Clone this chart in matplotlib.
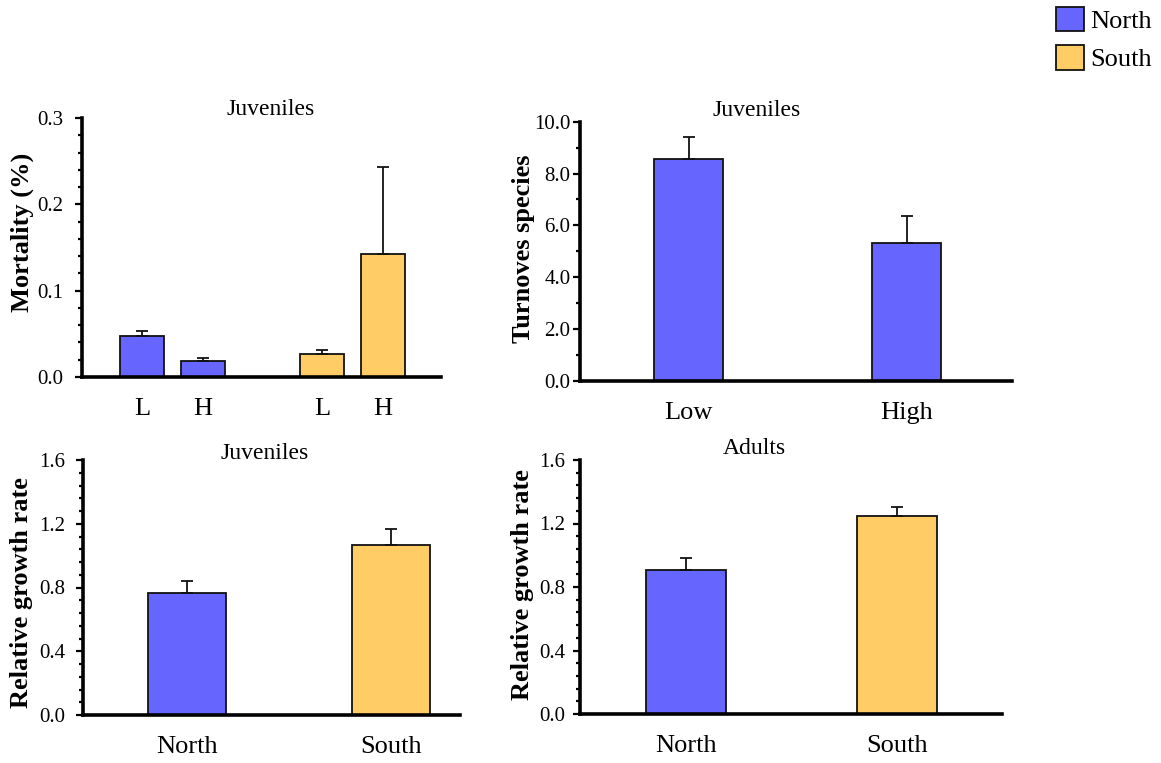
import matplotlib
matplotlib.use("Agg")
import matplotlib.pyplot as plt
from matplotlib.patches import Patch
from matplotlib.ticker import MultipleLocator, FormatStrFormatter

plt.rcParams['font.family'] = ['Liberation Serif', 'DejaVu Serif']

NORTH = '#6666FF'
SOUTH = '#FFCC66'

# mortality, juveniles (N-L, N-H, S-L, S-H)
mort_labels = ['L', 'H', 'L', 'H']
mort_vals = [0.048, 0.019, 0.027, 0.143]
mort_err = [0.005, 0.003, 0.004, 0.100]
mort_colors = [NORTH, NORTH, SOUTH, SOUTH]

# turnover species, juveniles
turn_labels = ['Low', 'High']
turn_vals = [8.56, 5.33]
turn_err = [0.86, 1.02]

# relative growth rate
rgr_labels = ['North', 'South']
rgr_juv = [0.765, 1.065]
rgr_juv_err = [0.075, 0.105]
rgr_adu = [0.905, 1.25]
rgr_adu_err = [0.08, 0.055]

W, H = 1161, 763
fig = plt.figure(figsize=(W / 100, H / 100), dpi=100)


def make_ax(l, r, b, t):
    # pixel box -> figure fraction
    return fig.add_axes([l / W, 1 - b / H, (r - l) / W, (b - t) / H])


def style(ax, ymax, major, minor, fmt, pad):
    for s in ['top', 'right']:
        ax.spines[s].set_visible(False)
    ax.spines['left'].set_linewidth(2.6)
    ax.spines['bottom'].set_linewidth(2.6)
    ax.set_ylim(0, ymax)
    ax.yaxis.set_major_locator(MultipleLocator(major))
    ax.yaxis.set_minor_locator(MultipleLocator(minor))
    ax.yaxis.set_major_formatter(FormatStrFormatter(fmt))
    ax.tick_params(axis='y', which='major', direction='out', length=5, width=1.6,
                   labelsize=15, pad=pad)
    ax.tick_params(axis='y', which='minor', direction='out', length=3, width=1.6)
    ax.tick_params(axis='x', length=0, labelsize=19, pad=15)


def bars(ax, pos, vals, err, colors, width):
    ax.bar(pos, vals, width=width, color=colors, edgecolor='#111111', linewidth=1.3, zorder=2)
    ax.errorbar(pos, vals, yerr=[[0] * len(err), err], fmt='none', ecolor='#111111',
                elinewidth=1.3, capsize=4, capthick=1.3, zorder=3)


# top left: mortality
ax1 = make_ax(82, 441, 377, 118)
p1 = [0, 1, 2.95, 3.95]
bars(ax1, p1, mort_vals, mort_err, mort_colors, 0.72)
ax1.set_xlim(-0.984, 4.90)
style(ax1, 0.3, 0.1, 0.02, '%.1f', 8.5)
ax1.set_xticks(p1, mort_labels)
ax1.text(0.526, 1.031, 'Juveniles', transform=ax1.transAxes, ha='center', va='center', fontsize=17)
ax1.text(-0.167, 0.56, 'Mortality (%)', transform=ax1.transAxes, rotation=90,
         ha='center', va='center', fontsize=19, fontweight='bold')

# top right: turnover
ax2 = make_ax(580, 1012, 381, 121.7)
p2 = [0, 1]
bars(ax2, p2, turn_vals, turn_err, [NORTH, NORTH], 0.317)
ax2.set_xlim(-0.498, 1.484)
style(ax2, 10, 2, 1, '%.1f', 2)
ax2.set_xticks(p2, turn_labels)
ax2.text(0.41, 1.045, 'Juveniles', transform=ax2.transAxes, ha='center', va='center', fontsize=17)
ax2.text(-0.13, 0.51, 'Turnoves species', transform=ax2.transAxes, rotation=90,
         ha='center', va='center', fontsize=19, fontweight='bold')

# bottom left: growth juveniles
ax3 = make_ax(83, 460, 715, 460)
p3 = [0, 1]
bars(ax3, p3, rgr_juv, rgr_juv_err, [NORTH, SOUTH], 0.382)
ax3.set_xlim(-0.51, 1.338)
style(ax3, 1.6, 0.4, 0.08, '%.1f', 8)
ax3.set_xticks(p3, rgr_labels)
ax3.text(0.483, 1.027, 'Juveniles', transform=ax3.transAxes, ha='center', va='center', fontsize=17)
ax3.text(-0.164, 0.48, 'Relative growth rate', transform=ax3.transAxes, rotation=90,
         ha='center', va='center', fontsize=19, fontweight='bold')

# bottom right: growth adults
ax4 = make_ax(580, 1002, 714, 460)
bars(ax4, p3, rgr_adu, rgr_adu_err, [NORTH, SOUTH], 0.379)
ax4.set_xlim(-0.502, 1.498)
style(ax4, 1.6, 0.4, 0.08, '%.1f', 5.5)
ax4.set_xticks(p3, rgr_labels)
ax4.text(0.412, 1.047, 'Adults', transform=ax4.transAxes, ha='center', va='center', fontsize=17)
ax4.text(-0.137, 0.508, 'Relative growth rate', transform=ax4.transAxes, rotation=90,
         ha='center', va='center', fontsize=19, fontweight='bold')

handles = [Patch(facecolor=NORTH, edgecolor='#111111', linewidth=1.3, label='North'),
           Patch(facecolor=SOUTH, edgecolor='#111111', linewidth=1.3, label='South')]
fig.legend(handles=handles, loc='upper right', bbox_to_anchor=(1152 / W, 1 - 7 / H), frameon=False,
           fontsize=19, handlelength=1.05, handleheight=1.05, handletextpad=0.25,
           labelspacing=0.45, borderaxespad=0.0, borderpad=0.0)

fig.savefig('out.png', dpi=100)
